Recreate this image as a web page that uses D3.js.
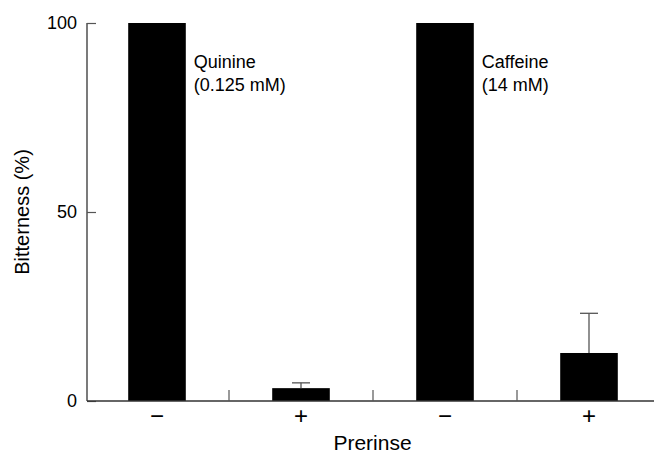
<!DOCTYPE html>
<html>
<head>
<meta charset="utf-8">
<script src="https://cdn.jsdelivr.net/npm/d3@7"></script>
<style>
  html, body { margin: 0; padding: 0; background: #fff; }
  svg text { font-family: "Liberation Sans", Arial, sans-serif; fill: #000; }
</style>
</head>
<body>
<div id="chart"></div>
<script>
// bar data: quinine -/+, caffeine -/+
var categories = ['q-', 'q+', 'c-', 'c+'];
var tickLabels = ['\u2212', '+', '\u2212', '+'];
var values = [100, 3.4, 100, 12.7];
var errors = [0, 1.4, 0, 10.5];
var yTicks = [0, 50, 100];
var annotations = [
  { cat: 'q-', lines: ['Quinine', '(0.125 mM)'] },
  { cat: 'c-', lines: ['Caffeine', '(14 mM)'] }
];

var width = 654, height = 455;
var plotLeft = 87, plotTop = 23, plotBottom = 401;

var svg = d3.select('#chart').append('svg')
  .attr('width', width)
  .attr('height', height);

var x = d3.scaleBand()
  .domain(categories)
  .range([plotLeft - 2, plotLeft - 2 + 576])
  .paddingInner(0.6)
  .paddingOuter(0.3);

var y = d3.scaleLinear().domain([0, 100]).range([plotBottom, plotTop]);

// bars
svg.append('g').selectAll('rect')
  .data(categories)
  .join('rect')
    .attr('x', function (d) { return x(d); })
    .attr('y', function (d, i) { return y(values[i]); })
    .attr('width', x.bandwidth())
    .attr('height', function (d, i) { return y(0) - y(values[i]); })
    .attr('fill', '#000');

// error bars (upper only)
var err = svg.append('g').attr('stroke', '#555').attr('stroke-width', 1.3);
categories.forEach(function (c, i) {
  if (!errors[i]) return;
  var cx = x(c) + x.bandwidth() / 2;
  err.append('line')
    .attr('x1', cx).attr('x2', cx)
    .attr('y1', y(values[i])).attr('y2', y(values[i] + errors[i]));
  err.append('line')
    .attr('x1', cx - 9).attr('x2', cx + 9)
    .attr('y1', y(values[i] + errors[i])).attr('y2', y(values[i] + errors[i]));
});

// y axis, ticks pointing inward
var yAxis = svg.append('g')
  .attr('transform', 'translate(' + plotLeft + ',0)')
  .call(d3.axisRight(y).tickValues(yTicks).tickSize(9).tickFormat(''));
yAxis.select('.domain').attr('d', 'M0,' + plotTop + 'V' + plotBottom).attr('stroke', '#333').attr('stroke-width', 1.3);
yAxis.selectAll('.tick line').attr('stroke', '#555').attr('stroke-width', 1.2);

svg.append('g').selectAll('text')
  .data(yTicks)
  .join('text')
    .attr('x', plotLeft - 10)
    .attr('y', function (d) { return y(d); })
    .attr('dy', '0.35em')
    .attr('text-anchor', 'end')
    .attr('font-size', '18px')
    .text(function (d) { return d; });

// x axis line
svg.append('line')
  .attr('x1', plotLeft).attr('x2', width)
  .attr('y1', plotBottom).attr('y2', plotBottom)
  .attr('stroke', '#333').attr('stroke-width', 1.5);

// separators between groups
var step = x.step();
svg.append('g').selectAll('line')
  .data(categories.slice(1))
  .join('line')
    .attr('x1', function (d) { return x(d) - (step - x.bandwidth()) / 2; })
    .attr('x2', function (d) { return x(d) - (step - x.bandwidth()) / 2; })
    .attr('y1', plotBottom)
    .attr('y2', plotBottom - 11)
    .attr('stroke', '#555')
    .attr('stroke-width', 1.2);

// x tick labels
svg.append('g').selectAll('text')
  .data(categories)
  .join('text')
    .attr('x', function (d) { return x(d) + x.bandwidth() / 2; })
    .attr('y', 424)
    .attr('text-anchor', 'middle')
    .attr('font-size', '24px')
    .text(function (d, i) { return tickLabels[i]; });

// axis titles
svg.append('text')
  .attr('x', (plotLeft + width) / 2 + 2)
  .attr('y', 450)
  .attr('text-anchor', 'middle')
  .attr('font-size', '21px')
  .text('Prerinse');

svg.append('text')
  .attr('transform', 'translate(29,' + ((plotTop + plotBottom) / 2) + ') rotate(-90)')
  .attr('text-anchor', 'middle')
  .attr('font-size', '20px')
  .text('Bitterness (%)');

// compound annotations
annotations.forEach(function (a) {
  var t = svg.append('text')
    .attr('x', x(a.cat) + x.bandwidth() + 8)
    .attr('y', y(100) + 45)
    .attr('font-size', '18px');
  a.lines.forEach(function (s, i) {
    t.append('tspan')
      .attr('x', x(a.cat) + x.bandwidth() + 8)
      .attr('dy', i ? 23 : 0)
      .text(s);
  });
});
</script>
</body>
</html>
